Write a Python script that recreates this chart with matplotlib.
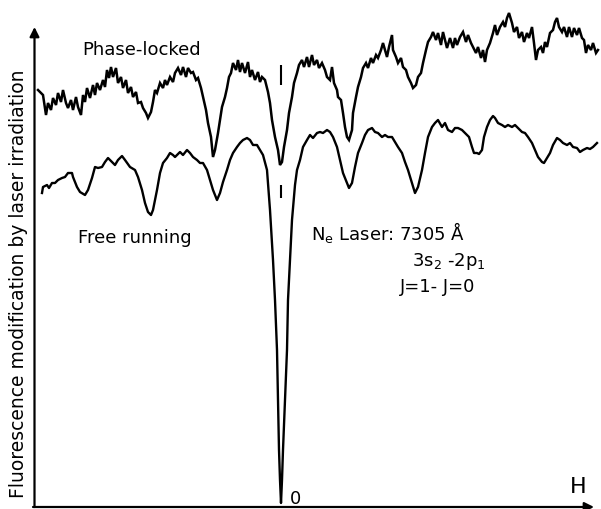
import matplotlib
matplotlib.use("Agg")
import matplotlib.pyplot as plt

# magnetic field scan H (arbitrary units, 0 at the centre line)
# and fluorescence signal (arbitrary units)

# phase-locked laser (upper, noisy trace)
h_phase = [-243, -238, -235, -233, -230, -228, -225, -223, -220, -218, -215, -213, -210, -208,
           -205, -203, -200, -198, -196, -194, -191, -188, -186, -184, -181, -178, -176, -174,
           -172, -170, -168, -165, -163, -160, -158, -155, -153, -150, -148, -145, -143, -140,
           -138, -135, -133, -130, -128, -126, -124, -121, -118, -116, -114, -111, -108,
           -106, -103, -100, -98, -95, -93, -90, -88, -85, -83, -80, -78, -75, -73, -70, -68,
           -66, -63, -61, -59, -56, -54, -52, -50, -48, -45, -43, -41, -39, -36, -33, -31, -29,
           -26, -23, -21, -19, -16, -13, -11, -9, -6, -3, -1, 1, 3, 6, 8, 11, 13, 16, 18, 21,
           23, 26, 28, 31, 33, 36, 38, 41, 44,
           46, 49, 51, 53, 56, 57, 60, 62, 64, 66, 68, 71, 72, 75, 77, 80, 82, 85, 87, 90, 92,
           95, 97, 100, 102, 104, 106, 108, 111, 112, 115, 117, 120, 122, 125, 127, 130, 132,
           135, 137, 140, 142, 145, 147, 150, 152, 155, 157, 160, 162, 164, 166, 169, 172, 174,
           176,
           179, 182, 185, 187, 190, 192, 195, 197, 200, 202, 204, 206, 209, 212, 214, 216, 219,
           222, 224, 226, 228, 231, 233, 236, 238, 241, 243, 246, 248, 251, 253, 255, 257, 260,
           262, 264, 266, 269, 272, 274, 276, 278, 281, 283, 286, 288, 291, 293, 296, 298, 301,
           303, 305, 307, 310, 312, 315, 317]
s_phase = [417, 412, 392, 404, 397, 409, 402, 414, 405, 417, 404, 399, 407, 397,
           410, 400, 392, 412, 405, 419, 409, 422, 412, 424, 417, 427, 420, 437,
           429, 440, 430, 439, 424, 430, 419, 427, 414, 420, 410, 415, 404, 405,
           399, 394, 389, 395, 405, 417, 414, 424, 419, 427, 422, 430, 425,
           434, 439, 432, 440, 430, 439, 434, 435, 427, 429, 419, 410, 397, 384, 370, 350,
           357, 374, 387, 400, 410, 419, 430, 434, 444, 437, 447, 435, 444, 434, 445, 430, 437,
           427, 435, 425, 430, 427, 415, 404, 387, 370, 357, 342, 345, 360, 377, 394, 410, 424,
           434, 442, 447, 440, 450, 440, 452, 442, 447, 439, 444, 437,
           430, 427, 440, 424, 417, 410, 407, 394, 380, 370, 367, 377, 394, 410, 420, 430, 439,
           444, 439, 449, 444, 452, 449, 457, 464, 457, 450, 460, 472, 457, 450, 444, 449, 440,
           437, 430, 424, 419, 422, 430, 434, 444, 457, 465, 470, 475, 467, 474, 462, 475, 467,
           459, 469, 459, 469, 462,
           470, 475, 465, 472, 464, 460, 454, 460, 449, 457, 445, 457, 464, 474, 482, 472, 480,
           485, 480, 489, 494, 484, 475, 480, 469, 475, 465, 474, 469, 480, 464, 447, 457, 460,
           454, 465, 460, 474, 477, 485, 489, 480, 475, 480, 470, 480, 470, 479, 472, 479, 469,
           467, 454, 462, 457, 464, 454, 457]

# free-running laser (lower, smooth trace with the deep zero-field dip)
h_free = [-239, -238, -234, -232, -229, -226, -223, -219, -216, -213, -209, -208, -204, -201,
          -196, -193, -189, -186, -183, -179, -176, -173, -169, -166, -163, -159, -156, -151,
          -146, -143, -139, -136, -133, -130, -128, -124, -121, -118, -114, -111, -108,
          -106, -101, -98, -94, -91, -88, -84, -81, -78, -74, -71, -68, -64, -61, -58, -54,
          -51, -48, -44, -41, -38, -34, -31, -28, -24, -21, -18, -14, -12,
          -11, -8, -6, -4, -3, -2, -1, 0, 1, 2, 4, 6, 7, 9, 11, 14, 16, 19, 22, 26, 29, 32, 36,
          39, 42, 46, 49, 52, 56, 59, 62, 66, 68, 71, 74, 77, 81, 84, 87, 91, 94, 97, 101, 104,
          107, 111, 114, 117, 121, 124, 127, 131, 134, 137, 141, 144, 147, 151, 154, 157, 161,
          164, 167, 171, 174, 177,
          181, 184, 188, 191, 193, 196, 198, 201, 203, 206, 209, 212, 214, 217, 221, 224, 227,
          231, 234, 237, 241, 244, 247, 251, 254, 257, 261, 263, 266, 269, 272, 276, 279, 282,
          286, 289, 292, 296, 299, 302, 306, 309, 312, 316]
s_free = [314, 320, 322, 319, 324, 324, 327, 329, 330, 334, 334, 330, 320, 315,
          312, 317, 329, 340, 339, 340, 345, 349, 345, 342, 347, 351, 347, 340,
          337, 330, 317, 304, 295, 292, 297, 317, 334, 344, 349, 354, 352,
          350, 355, 352, 357, 354, 350, 347, 344, 344, 337, 327, 317, 307, 314, 325, 337,
          347, 354, 360, 364, 367, 369, 367, 362, 362, 357, 352, 337, 310,
          297, 247, 207, 157, 107, 57, 27, 4, 27, 57, 107, 157, 207, 247, 287, 322, 337, 347,
          360, 367, 372, 369, 374,
          375, 374, 377, 375, 370, 360, 347, 334, 324, 319, 324, 340, 354, 364, 372, 377, 379,
          375, 374, 370, 372, 370, 370, 365, 360, 354, 345, 337, 324, 314, 320, 337, 354, 370,
          380, 384, 387, 380, 384, 377, 375, 379, 379,
          377, 374, 370, 360, 354, 354, 353, 357, 370, 380, 387, 391, 389, 384, 382, 380, 382,
          380, 382, 379, 375, 374, 370, 364, 357, 350, 345, 344, 349, 354, 362, 369, 367, 364,
          362, 364, 360, 359, 355, 357, 359, 358, 360, 364]

# short reference bars marking H = 0 above each trace
zero_marks_lo = [422, 309]
zero_marks_hi = [442, 322]

fig = plt.figure(figsize=(6.01, 5.09), dpi=100)
ax = fig.add_axes([0, 0, 1, 1])
ax.set_xlim(-281, 320)
ax.set_ylim(-2, 507)
ax.axis("off")

ax.plot(h_phase, s_phase, color="black", lw=1.8, solid_joinstyle="miter")
ax.plot(h_free, s_free, color="black", lw=1.7)
ax.vlines([0, 0], zero_marks_lo, zero_marks_hi, color="black", lw=1.5)

# hand-drawn style axes with arrow heads
arrow = dict(arrowstyle="-|>", color="black", lw=1.6, mutation_scale=14, shrinkA=0, shrinkB=0)
ax.annotate("", xy=(-246.5, 480), xytext=(-246.5, 0), arrowprops=arrow)
ax.annotate("", xy=(313, 0), xytext=(-248, 0), arrowprops=arrow)

font = "DejaVu Sans"
ax.text(-262, 223, "Fluorescence modification by laser irradiation", rotation=90,
        ha="center", va="center", fontsize=13.5, family=font)
ax.text(-199, 457, "Phase-locked", ha="left", va="center", fontsize=13, family=font)
ax.text(-203, 269, "Free running", ha="left", va="center", fontsize=13, family=font)
ax.text(30, 267, "N$_\\mathregular{e}$ Laser: 7305 Å", ha="left", va="baseline", fontsize=13, family=font)
ax.text(131, 241, "3s$_\\mathregular{2}$ -2p$_\\mathregular{1}$", ha="left", va="baseline", fontsize=13, family=font)
ax.text(119, 215, "J=1- J=0", ha="left", va="baseline", fontsize=13, family=font)
ax.text(9, 8, "0", ha="left", va="center", fontsize=13, family=font)
ax.text(289, 20, "H", ha="left", va="center", fontsize=16, family=font)

fig.savefig("out.png", dpi=100)
